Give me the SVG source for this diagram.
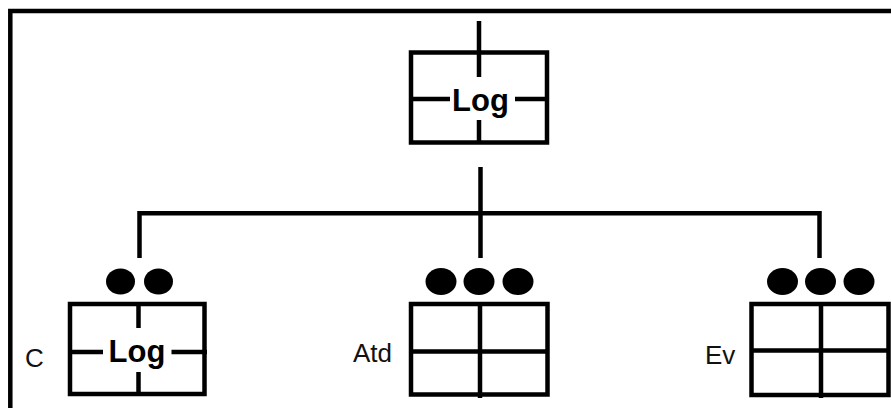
<svg xmlns="http://www.w3.org/2000/svg" width="891" height="408" viewBox="0 0 891 408">
<style>
.ln{fill:none;stroke:#000;stroke-width:4.5;stroke-linecap:butt;stroke-linejoin:miter}
.box{fill:#fff;stroke:#000;stroke-width:4.5}
.dot{fill:#000}
.lbl{font-family:"Liberation Sans",Arial,sans-serif;font-size:26px;fill:#111}
.log{font-family:"Liberation Sans",Arial,sans-serif;font-size:31px;font-weight:bold;fill:#000;text-anchor:middle}
</style>
<rect width="891" height="408" fill="#fff"/>
<path class="ln" d="M10.3,408 V11 H891"/>
<g id="connectors">
<path class="ln" d="M480.5,167 V258"/>
<path class="ln" d="M139.5,258 V213.3 H819.5 V258"/>
</g>
<g id="node-top">
<rect class="box" x="411" y="52.5" width="136" height="90"/>
<path class="ln" d="M479,21 V77 M479,120 V143 M411,99 H450 M515,99 H547"/>
<text class="log" x="480.5" y="110.5">Log</text>
</g>
<g id="node-c">
<ellipse class="dot" cx="120.5" cy="281.5" rx="14.5" ry="13"/>
<ellipse class="dot" cx="158.5" cy="281.5" rx="14.5" ry="13"/>
<rect class="box" x="70" y="304" width="134.5" height="90"/>
<path class="ln" d="M138.5,304 V328 M138.5,372 V396 M70,352 H103 M171.5,352 H207"/>
<text class="log" x="137" y="362">Log</text>
<text class="lbl" x="25" y="366.5">C</text>
</g>
<g id="node-atd">
<ellipse class="dot" cx="441" cy="281.5" rx="15.5" ry="13.5"/>
<ellipse class="dot" cx="479" cy="281.5" rx="15.5" ry="13.5"/>
<ellipse class="dot" cx="518" cy="281.5" rx="15.5" ry="13.5"/>
<rect class="box" x="411" y="304" width="136.5" height="90.5"/>
<path class="ln" d="M480,304 V398 M411,351.5 H547.5"/>
<text class="lbl" x="353" y="362">Atd</text>
</g>
<g id="node-ev">
<ellipse class="dot" cx="782.5" cy="281.5" rx="15.5" ry="13.5"/>
<ellipse class="dot" cx="820.5" cy="281.5" rx="15.5" ry="13.5"/>
<ellipse class="dot" cx="859" cy="281.5" rx="15.5" ry="13.5"/>
<rect class="box" x="751.5" y="304" width="137" height="91"/>
<path class="ln" d="M821,304 V398 M751.5,350.5 H888.5"/>
<text class="lbl" x="705" y="364">Ev</text>
</g>
</svg>
